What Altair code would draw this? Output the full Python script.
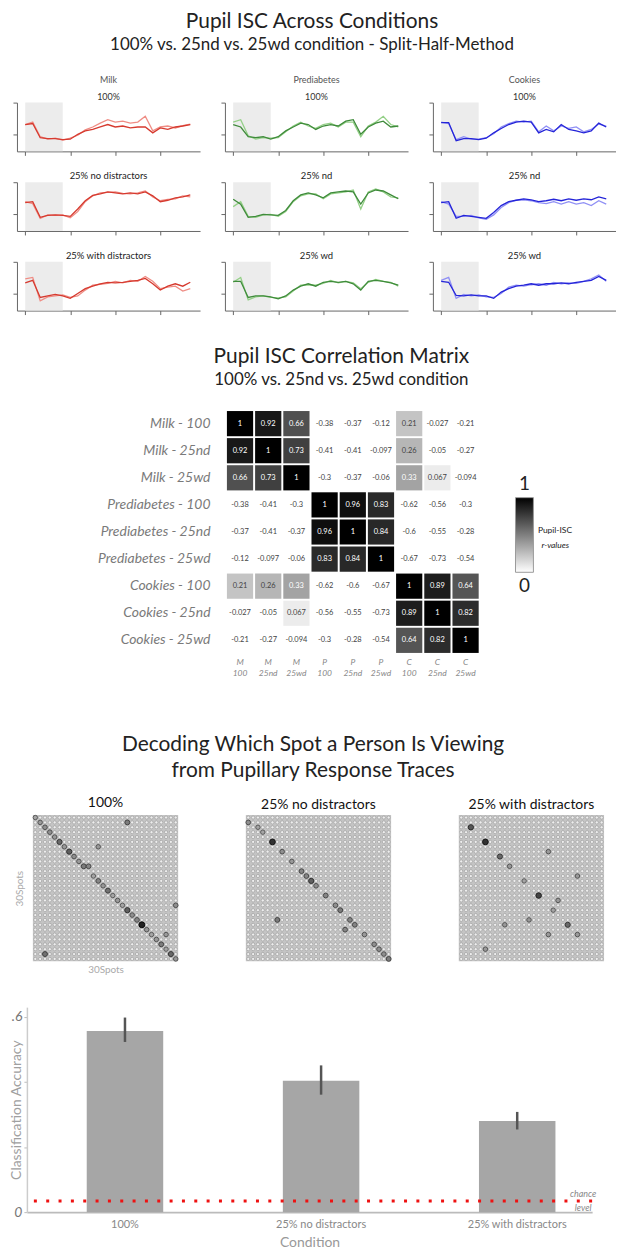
import altair as alt
import pandas as pd

FONT = "Lato"

# ---------------- Section A: split-half pupil ISC traces ----------------
t_idx = list(range(23))
shade_window = [0, 5]
categories = ["Milk", "Prediabetes", "Cookies"]
row_titles = [["100%", "25% no distractors", "25% with distractors"],
              ["100%", "25% nd", "25% wd"],
              ["100%", "25% nd", "25% wd"]]
dark_colors = ["#d63a2f", "#3f8b3b", "#2424d8"]
light_colors = ["#ef8d85", "#94d087", "#9090f5"]

milk_100_a = [0.55,0.57,0.28,0.26,0.26,0.24,0.25,0.35,0.42,0.45,0.5,0.55,0.5,0.52,0.48,0.5,0.5,0.38,0.48,0.45,0.5,0.52,0.55]
milk_100_b = [0.55,0.6,0.3,0.25,0.27,0.23,0.27,0.33,0.44,0.5,0.58,0.65,0.6,0.62,0.58,0.6,0.72,0.42,0.5,0.52,0.48,0.53,0.56]
pre_100_a = [0.55,0.5,0.3,0.28,0.3,0.25,0.3,0.42,0.5,0.58,0.55,0.45,0.52,0.55,0.52,0.62,0.65,0.35,0.5,0.58,0.62,0.5,0.52]
pre_100_b = [0.6,0.65,0.32,0.25,0.28,0.27,0.28,0.4,0.52,0.6,0.52,0.47,0.55,0.58,0.5,0.6,0.6,0.3,0.52,0.6,0.72,0.55,0.5]
coo_100_a = [0.59,0.59,0.22,0.26,0.26,0.24,0.27,0.38,0.47,0.55,0.6,0.62,0.6,0.38,0.45,0.4,0.55,0.45,0.42,0.38,0.42,0.58,0.5]
coo_100_b = [0.6,0.57,0.24,0.3,0.25,0.25,0.28,0.36,0.5,0.57,0.62,0.6,0.62,0.4,0.52,0.42,0.52,0.47,0.5,0.4,0.45,0.56,0.52]
milk_nd_a = [0.58,0.6,0.28,0.32,0.33,0.32,0.3,0.45,0.62,0.73,0.76,0.8,0.78,0.76,0.78,0.76,0.8,0.72,0.6,0.63,0.68,0.7,0.74]
milk_nd_b = [0.6,0.56,0.26,0.33,0.32,0.33,0.27,0.4,0.6,0.72,0.78,0.79,0.8,0.77,0.76,0.78,0.82,0.7,0.62,0.65,0.66,0.72,0.7]
pre_nd_a = [0.65,0.55,0.28,0.3,0.34,0.33,0.32,0.42,0.62,0.74,0.78,0.74,0.68,0.78,0.8,0.82,0.8,0.55,0.78,0.84,0.82,0.74,0.66]
pre_nd_b = [0.5,0.6,0.3,0.28,0.33,0.34,0.3,0.4,0.6,0.72,0.76,0.76,0.66,0.76,0.78,0.8,0.84,0.45,0.8,0.86,0.8,0.7,0.68]
coo_nd_a = [0.58,0.6,0.26,0.32,0.3,0.28,0.26,0.38,0.52,0.6,0.63,0.66,0.64,0.6,0.62,0.65,0.62,0.66,0.63,0.66,0.64,0.7,0.66]
coo_nd_b = [0.6,0.55,0.3,0.3,0.32,0.27,0.24,0.33,0.48,0.58,0.63,0.64,0.62,0.58,0.56,0.6,0.55,0.6,0.55,0.58,0.52,0.62,0.55]
milk_wd_a = [0.57,0.62,0.27,0.3,0.33,0.3,0.25,0.35,0.45,0.5,0.55,0.58,0.57,0.58,0.6,0.62,0.66,0.55,0.42,0.5,0.55,0.5,0.58]
milk_wd_b = [0.65,0.68,0.2,0.28,0.3,0.32,0.27,0.3,0.42,0.52,0.54,0.56,0.6,0.57,0.62,0.6,0.7,0.6,0.45,0.48,0.5,0.4,0.45]
pre_wd_a = [0.6,0.6,0.27,0.3,0.3,0.28,0.24,0.3,0.42,0.5,0.55,0.5,0.58,0.6,0.58,0.6,0.55,0.42,0.6,0.62,0.6,0.57,0.52]
pre_wd_b = [0.58,0.68,0.22,0.28,0.3,0.27,0.26,0.28,0.4,0.52,0.53,0.52,0.56,0.62,0.57,0.6,0.57,0.45,0.58,0.64,0.6,0.58,0.5]
coo_wd_a = [0.6,0.58,0.31,0.3,0.32,0.3,0.3,0.25,0.38,0.45,0.5,0.52,0.55,0.52,0.55,0.55,0.57,0.55,0.58,0.6,0.62,0.7,0.62]
coo_wd_b = [0.62,0.68,0.25,0.33,0.3,0.32,0.28,0.27,0.35,0.48,0.52,0.5,0.53,0.55,0.52,0.58,0.55,0.57,0.56,0.6,0.65,0.73,0.6]

traces = [
    [(milk_100_a, milk_100_b), (milk_nd_a, milk_nd_b), (milk_wd_a, milk_wd_b)],
    [(pre_100_a, pre_100_b), (pre_nd_a, pre_nd_b), (pre_wd_a, pre_wd_b)],
    [(coo_100_a, coo_100_b), (coo_nd_a, coo_nd_b), (coo_wd_a, coo_wd_b)],
]

# ---------------- Section B: correlation matrix ----------------
corr_rows = ["Milk - 100", "Milk - 25nd", "Milk - 25wd",
             "Prediabetes - 100", "Prediabetes - 25nd", "Prediabetes - 25wd",
             "Cookies - 100", "Cookies - 25nd", "Cookies - 25wd"]
corr_cols = ["M 100", "M 25nd", "M 25wd", "P 100", "P 25nd", "P 25wd", "C 100", "C 25nd", "C 25wd"]
corr_vals = [
    [1, 0.92, 0.66, -0.38, -0.37, -0.12, 0.21, -0.027, -0.21],
    [0.92, 1, 0.73, -0.41, -0.41, -0.097, 0.26, -0.05, -0.27],
    [0.66, 0.73, 1, -0.3, -0.37, -0.06, 0.33, 0.067, -0.094],
    [-0.38, -0.41, -0.3, 1, 0.96, 0.83, -0.62, -0.56, -0.3],
    [-0.37, -0.41, -0.37, 0.96, 1, 0.84, -0.6, -0.55, -0.28],
    [-0.12, -0.097, -0.06, 0.83, 0.84, 1, -0.67, -0.73, -0.54],
    [0.21, 0.26, 0.33, -0.62, -0.6, -0.67, 1, 0.89, 0.64],
    [-0.027, -0.05, 0.067, -0.56, -0.55, -0.73, 0.89, 1, 0.82],
    [-0.21, -0.27, -0.094, -0.3, -0.28, -0.54, 0.64, 0.82, 1],
]
legend_ticks = [1, 0]
legend_tick_labels = ["1", "0"]
legend_names = ["Pupil-ISC", "r-values"]
legend_name_pos = [0.57, 0.37]

# ---------------- Section C: decoding matrices ----------------
spots = list(range(30))
decode_titles = ["100%", "25% no distractors", "25% with distractors"]
hl_100 = [(0,0,.25),(1,1,.3),(2,2,.35),(3,3,.35),(4,4,.3),(5,5,.55),(6,6,.3),(7,7,.6),(8,8,.35),(9,9,.3),
          (10,10,.45),(10,11,.4),(12,12,.25),(13,13,.4),(14,14,.3),(15,15,.5),(16,16,.25),(17,17,.3),
          (18,18,.25),(19,19,.6),(20,20,.35),(21,21,.4),(22,22,.95),(23,23,.3),(24,24,.25),(25,25,.3),
          (26,26,.45),(27,27,.25),(28,28,.55),(29,29,.3),(1,19,.45),(6,13,.3),(18,29,.35),(28,2,.5),(24,27,.3)]
hl_nd = [(1,0,.35),(2,2,.25),(3,3,.25),(5,5,.85),(7,7,.35),(9,9,.3),(11,11,.4),(12,12,.4),(13,13,.6),
         (14,14,.35),(16,16,.4),(18,18,.35),(19,19,.45),(21,21,.4),(22,22,.4),(23,20,.4),(24,24,.3),
         (26,26,.35),(27,27,.35),(28,28,.35),(29,29,.45),(21,6,.45)]
hl_wd = [(2,2,.65),(5,5,.85),(8,8,.55),(10,10,.3),(13,13,.25),(16,16,.75),(19,19,.25),(22,22,.55),
         (7,18,.3),(12,24,.3),(17,20,.3),(21,14,.3),(22,9,.3),(24,18,.3),(27,5,.3),(24,24,.3)]
decode_hl = [hl_100, hl_nd, hl_wd]

# ---------------- Section D: classification accuracy ----------------
conditions = ["100%", "25% no distractors", "25% with distractors"]
accuracy = [0.557, 0.404, 0.28]
err_low = [0.523, 0.361, 0.254]
err_high = [0.598, 0.451, 0.308]
chance_level = 0.034


def spacer(w=1, h=1):
    return alt.Chart(pd.DataFrame({"z": [0]})).mark_point(size=0, opacity=0).encode(
        x=alt.value(0), y=alt.value(0)).properties(width=w, height=h)


# ---- Section A build ----
def trace_panel(ci, ri):
    a_vals, b_vals = traces[ci][ri]
    xs = alt.Scale(domain=[-1.1, 23.3], nice=False, zero=False)
    ys = alt.Scale(domain=[0, 1], nice=False)
    xax = alt.Axis(values=[0, 6, 12, 18], labels=False, title=None, grid=False, tickSize=4,
                   domainColor="#666", tickColor="#666")
    yax = alt.Axis(values=[0.35, 1], labels=False, title=None, grid=False, tickSize=4,
                   domainColor="#666", tickColor="#666")
    shade = alt.Chart(pd.DataFrame({"s": [shade_window[0]], "e": [shade_window[1]], "top": [1], "bot": [0]})).mark_rect(
        color="#ececec").encode(x=alt.X("s:Q", scale=xs, axis=xax), x2="e:Q",
                                y=alt.Y("top:Q", scale=ys, axis=yax), y2="bot:Q")
    dfa = pd.DataFrame({"t": t_idx, "v": a_vals})
    dfb = pd.DataFrame({"t": t_idx, "v": b_vals})
    lb = alt.Chart(dfb).mark_line(color=light_colors[ci], strokeWidth=1.3).encode(
        x=alt.X("t:Q", scale=xs, axis=xax), y=alt.Y("v:Q", scale=ys, axis=yax))
    la = alt.Chart(dfa).mark_line(color=dark_colors[ci], strokeWidth=1.3).encode(
        x=alt.X("t:Q", scale=xs, axis=xax), y=alt.Y("v:Q", scale=ys, axis=yax))
    if ri == 0:
        title = alt.TitleParams(text=categories[ci], subtitle=row_titles[ci][0], fontSize=9, fontWeight="normal",
                                color="#555", subtitleFontSize=9, subtitleColor="#333", subtitlePadding=8,
                                offset=0, anchor="middle", font=FONT, subtitleFont=FONT)
    else:
        title = alt.TitleParams(text=row_titles[ci][ri], fontSize=9.5, fontWeight="normal", color="#222",
                                offset=1, anchor="middle", font=FONT)
    return alt.layer(shade, lb, la).properties(width=184, height=49, title=title)


rows_a = [alt.hconcat(*[trace_panel(ci, ri) for ci in range(3)], spacing=20) for ri in range(3)]
section_a = alt.hconcat(spacer(4, 1), alt.vconcat(*rows_a, spacing=15), spacing=0).properties(
    title=alt.TitleParams(text="Pupil ISC Across Conditions",
                          subtitle="100% vs. 25nd vs. 25wd condition - Split-Half-Method",
                          fontSize=21, fontWeight="normal", color="#222", font=FONT,
                          subtitleFontSize=17, subtitleColor="#222", subtitleFont=FONT, subtitlePadding=5,
                          offset=23, anchor="middle"))

# ---- Section B build ----
def fmt(v):
    return "1" if v == 1 else str(v)

cells = []
for i, r in enumerate(corr_rows):
    for j, c in enumerate(corr_cols):
        cells.append({"r": r, "c": c, "v": corr_vals[i][j], "lab": fmt(corr_vals[i][j])})
corr_df = pd.DataFrame(cells)

mx = alt.X("c:N", sort=corr_cols, scale=alt.Scale(paddingInner=0.07, paddingOuter=0.035),
           axis=alt.Axis(orient="bottom", title=None, labelAngle=0, labelExpr="split(datum.value, ' ')",
                         labelFont=FONT, labelFontSize=8.5, labelFontStyle="italic", labelColor="#888",
                         ticks=False, domain=False, labelPadding=4, labelLineHeight=11))
my = alt.Y("r:N", sort=corr_rows, scale=alt.Scale(paddingInner=0.07, paddingOuter=0.035),
           axis=alt.Axis(title=None, ticks=False, domain=False, labelFont=FONT, labelFontSize=14,
                         labelFontStyle="italic", labelColor="#7a7a7a", labelPadding=16))
corr_base = alt.Chart(corr_df).encode(x=mx, y=my)
corr_cells = corr_base.mark_rect().encode(
    color=alt.Color("v:Q", scale=alt.Scale(domain=[0, 1], range=["#ffffff", "#000000"], clamp=True), legend=None))
corr_text = corr_base.mark_text(fontSize=7.5, font=FONT).encode(
    text="lab:N", color=alt.condition("datum.v >= 0.3", alt.value("#ffffff"), alt.value("#444444")))
matrix = alt.layer(corr_cells, corr_text).properties(width=255, height=245)

lxs = alt.Scale(domain=[0, 4], nice=False, zero=False)
lys = alt.Scale(domain=[-1.093, 2.173], nice=False, zero=False)
leg_bar = alt.Chart(pd.DataFrame({"x0": [0], "x1": [1], "y0": [min(legend_ticks)], "y1": [max(legend_ticks)]})).mark_rect(
    fill=alt.LinearGradient(gradient="linear",
                            stops=[alt.GradientStop(color="#000000", offset=0), alt.GradientStop(color="#ffffff", offset=1)],
                            x1=0, x2=0, y1=0, y2=1),
    stroke="#999", strokeWidth=1).encode(
    x=alt.X("x0:Q", scale=lxs, axis=None), x2="x1:Q", y=alt.Y("y0:Q", scale=lys, axis=None), y2="y1:Q")
leg_top = alt.Chart(pd.DataFrame({"x": [0.5], "y": [legend_ticks[0]], "t": [legend_tick_labels[0]]})).mark_text(
    fontSize=19, dy=-14, font=FONT, color="#222").encode(
    x=alt.X("x:Q", scale=lxs, axis=None), y=alt.Y("y:Q", scale=lys, axis=None), text="t:N")
leg_bot = alt.Chart(pd.DataFrame({"x": [0.5], "y": [legend_ticks[1]], "t": [legend_tick_labels[1]]})).mark_text(
    fontSize=19, dy=14, font=FONT, color="#222").encode(
    x=alt.X("x:Q", scale=lxs, axis=None), y=alt.Y("y:Q", scale=lys, axis=None), text="t:N")
leg_name1 = alt.Chart(pd.DataFrame({"x": [1.25], "y": [legend_name_pos[0]], "t": [legend_names[0]]})).mark_text(
    fontSize=8.5, align="left", font=FONT, color="#222").encode(
    x=alt.X("x:Q", scale=lxs, axis=None), y=alt.Y("y:Q", scale=lys, axis=None), text="t:N")
leg_name2 = alt.Chart(pd.DataFrame({"x": [1.45], "y": [legend_name_pos[1]], "t": [legend_names[1]]})).mark_text(
    fontSize=8.5, align="left", font=FONT, fontStyle="italic", color="#222").encode(
    x=alt.X("x:Q", scale=lxs, axis=None), y=alt.Y("y:Q", scale=lys, axis=None), text="t:N")
legend = alt.layer(leg_bar, leg_top, leg_bot, leg_name1, leg_name2).properties(width=72, height=245)

section_b = alt.hconcat(spacer(89, 1), alt.hconcat(matrix, legend, spacing=35), spacing=0).properties(
    title=alt.TitleParams(text="Pupil ISC Correlation Matrix", subtitle="100% vs. 25nd vs. 25wd condition",
                          fontSize=21, fontWeight="normal", color="#222", font=FONT,
                          subtitleFontSize=17, subtitleColor="#222", subtitleFont=FONT, subtitlePadding=5,
                          offset=22, anchor="middle", dx=44))

# ---- Section C build ----
grid_df = pd.DataFrame([(r, c) for r in spots for c in spots], columns=["row", "col"])


def decode_matrix(k):
    first = k == 0
    xs = alt.Scale(domain=[-0.5, 29.5], nice=False, zero=False)
    ys = alt.Scale(domain=[-0.5, 29.5], nice=False, zero=False, reverse=True)
    xax = alt.Axis(title="30Spots" if first else None, labels=False, ticks=False, domain=False, grid=False,
                   titleFontSize=10, titleColor="#aaa", titleFontWeight="normal", titleFont=FONT, titlePadding=3)
    yax = alt.Axis(title="30Spots" if first else None, labels=False, ticks=False, domain=False, grid=False,
                   titleFontSize=10, titleColor="#aaa", titleFontWeight="normal", titleFont=FONT, titlePadding=8)
    base = alt.Chart(grid_df).mark_point(shape="circle", filled=True, size=10, fill="#eeeeee",
                                         stroke="#8c8c8c", strokeWidth=0.5, opacity=1).encode(
        x=alt.X("col:Q", scale=xs, axis=xax), y=alt.Y("row:Q", scale=ys, axis=yax))
    hl_df = pd.DataFrame(decode_hl[k], columns=["row", "col", "v"])
    hl = alt.Chart(hl_df).mark_point(shape="circle", filled=True, strokeWidth=1, opacity=1).encode(
        x=alt.X("col:Q", scale=xs, axis=xax), y=alt.Y("row:Q", scale=ys, axis=yax),
        size=alt.Size("v:Q", scale=alt.Scale(domain=[0, 1], range=[14, 36]), legend=None),
        fill=alt.Fill("v:Q", scale=alt.Scale(domain=[0, 1], range=["#dadada", "#1a1a1a"]), legend=None),
        stroke=alt.Stroke("v:Q", scale=alt.Scale(domain=[0, 1], range=["#7a7a7a", "#000000"]), legend=None))
    return alt.layer(base, hl).properties(
        width=146, height=147,
        view=alt.ViewBackground(fill="#c4c4c4", stroke="#aaaaaa"),
        title=alt.TitleParams(text=decode_titles[k], fontSize=14, fontWeight="normal", color="#111",
                              font=FONT, offset=3, anchor="middle"))


section_c = alt.hconcat(spacer(7, 1), alt.hconcat(*[decode_matrix(k) for k in range(3)], spacing=64), spacing=0).properties(
    title=alt.TitleParams(text=["Decoding Which Spot a Person Is Viewing", "from Pupillary Response Traces"],
                          fontSize=21, lineHeight=26, fontWeight="normal", color="#222", font=FONT,
                          offset=16, anchor="middle", dx=7))

# ---- Section D build ----
bar_df = pd.DataFrame({"cond": conditions, "acc": accuracy, "lo": err_low, "hi": err_high})
bxs = alt.Scale(domain=conditions, paddingInner=0.61, paddingOuter=0.246, align=0.62)
bys = alt.Scale(domain=[0, 0.63], nice=False)
bx = alt.X("cond:N", sort=conditions, scale=bxs,
           axis=alt.Axis(title="Condition", labelAngle=0, labelFontSize=11, labelColor="#888", labelFont=FONT,
                         titleFontSize=14, titleColor="#999", titleFontWeight="normal", titleFont=FONT,
                         domainColor="#bbbbbb", domainWidth=2, ticks=False, labelPadding=6, titlePadding=7))
by = alt.Y("acc:Q", scale=bys,
           axis=alt.Axis(values=[0, 0.2, 0.4, 0.6],
                         labelExpr="datum.value == 0 ? '0' : (datum.value == 0.6 ? '.6' : '')",
                         labelFontSize=14, labelFontStyle="italic", labelColor="#777", labelFont=FONT,
                         labelPadding=2, tickSize=3, tickColor="#bbbbbb", domainColor="#cccccc", domainWidth=1.5,
                         grid=False, title="Classification Accuracy", titleFontSize=14, titleColor="#a0a0a0",
                         titleFontWeight="normal", titleFont=FONT, titleX=-3, titleY=103))
bars = alt.Chart(bar_df).mark_bar(color="#a6a6a6").encode(x=bx, y=by)
errs = alt.Chart(bar_df).mark_rule(color="#555555", strokeWidth=2.5).encode(x=bx, y="lo:Q", y2="hi:Q")
chance_df = pd.DataFrame({"y": [chance_level]})
chance = alt.Chart(chance_df).mark_rule(color="#ee1111", strokeWidth=3, strokeDash=[3, 9.4]).encode(
    y=alt.Y("y:Q", scale=bys))
chance_t1 = alt.Chart(chance_df).mark_text(text="chance", fontSize=9, fontStyle="italic", color="#888",
                                           font=FONT, dy=-7, dx=-9).encode(x=alt.value("width"), y=alt.Y("y:Q", scale=bys))
chance_t2 = alt.Chart(chance_df).mark_text(text="level", fontSize=9, fontStyle="italic", color="#888",
                                           font=FONT, dy=7, dx=-9).encode(x=alt.value("width"), y=alt.Y("y:Q", scale=bys))
bar_chart = alt.layer(bars, errs, chance, chance_t1, chance_t2).properties(width=568, height=206)
section_d = alt.hconcat(spacer(2, 1), bar_chart, spacing=0)

chart = alt.vconcat(section_a, spacer(1, 31), section_b, spacer(1, 56), section_c, spacer(1, 33), section_d,
                    spacing=0).properties(padding=0).configure(font=FONT).configure_view(strokeWidth=0)

chart.save("out.html", embed_options={"renderer": "svg", "actions": False})
